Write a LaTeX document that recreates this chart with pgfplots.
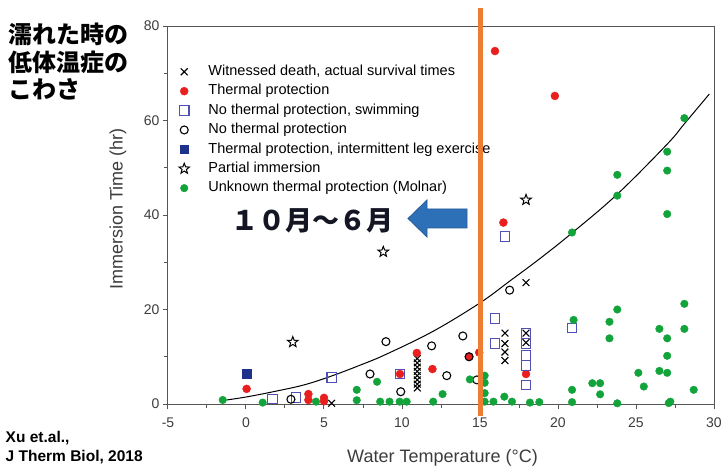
\documentclass[border=0pt]{standalone}
\usepackage{pgfplots}
\pgfplotsset{compat=1.18}
\usepackage{fontspec}
\setmainfont{Liberation Sans}
\newfontfamily\cjk{Noto Sans CJK JP}
\definecolor{tred}{RGB}{233,30,30}
\definecolor{tgreen}{RGB}{18,163,58}
\definecolor{tblue}{RGB}{80,80,180}
\definecolor{tnavy}{RGB}{30,50,140}
\definecolor{torange}{RGB}{237,125,49}
\definecolor{axisgray}{RGB}{85,85,85}
\definecolor{tickgray}{RGB}{60,60,60}
\definecolor{arrowblue}{RGB}{46,112,184}
\definecolor{arrowborder}{RGB}{37,90,150}
\definecolor{textnavy}{RGB}{20,22,35}
\pgfdeclareplotmark{ostar}{%
 \pgfpathmoveto{\pgfpointpolar{90}{\pgfplotmarksize}}%
 \pgfpathlineto{\pgfpointpolar{126}{0.42\pgfplotmarksize}}%
 \pgfpathlineto{\pgfpointpolar{162}{\pgfplotmarksize}}%
 \pgfpathlineto{\pgfpointpolar{198}{0.42\pgfplotmarksize}}%
 \pgfpathlineto{\pgfpointpolar{234}{\pgfplotmarksize}}%
 \pgfpathlineto{\pgfpointpolar{270}{0.42\pgfplotmarksize}}%
 \pgfpathlineto{\pgfpointpolar{306}{\pgfplotmarksize}}%
 \pgfpathlineto{\pgfpointpolar{342}{0.42\pgfplotmarksize}}%
 \pgfpathlineto{\pgfpointpolar{18}{\pgfplotmarksize}}%
 \pgfpathlineto{\pgfpointpolar{54}{0.42\pgfplotmarksize}}%
 \pgfpathclose\pgfusepathqstroke}
\begin{document}
\begin{tikzpicture}
\useasboundingbox (-168pt,-65pt) rectangle (553pt,404pt);
\begin{axis}[
 scale only axis, width=546pt, height=378pt,
 xmin=-5, xmax=30, ymin=0, ymax=80,
 xtick={-5,0,...,30}, ytick={0,20,...,80},
 minor x tick num=1, minor y tick num=1,
 xtick pos=bottom, ytick pos=left,
 tick align=outside,
 major tick length=5pt, minor tick length=4pt,
 axis line style={draw=axisgray, line width=1pt},
 every tick/.style={axisgray, line width=1pt},
 tick label style={font=\fontsize{14}{16}\selectfont, text=tickgray},
 xticklabel style={yshift=-5pt},
 /pgf/number format/assume math mode=true,
 clip=false,
 legend style={at={(axis description cs:0,1)}, anchor=north west, xshift=11pt, yshift=-38pt,
   draw=none, fill=none, inner sep=0pt, outer sep=0pt,
   font=\fontsize{14.5}{17}\selectfont, row sep=3.9pt, column sep=18pt,
   nodes={inner sep=1pt, text height=10.5pt, text depth=3pt}},
 legend cell align=left,
]
\addplot[black, line width=1pt, smooth, tension=0.6, no marks, forget plot] coordinates {
(-1.24,0.85)(0.04,1.5)(1.75,2.6)(3.67,4.0)(5.38,5.8)(7.3,8.2)(8.97,10.5)(12,15.4)(15,21.4)(16.9,26.0)(18.85,30.8)(20.9,36.2)(23.8,44.4)(27,55.0)(28.1,59.3)(29.7,65.6)};
\addplot[only marks, mark=x, mark size=4.8pt, black, line width=1.1pt] coordinates {
(5.49,0.15)(10.98,9.6)(10.98,8.7)(10.98,7.8)(10.98,6.9)(10.98,6.0)(10.98,5.1)(10.98,4.2)(10.98,3.4)
(16.6,15.0)(16.6,12.8)(16.6,11.0)(16.6,9.2)(17.95,15.0)(17.95,13.0)(17.95,25.7)};
\addlegendentry{Witnessed death, actual survival times}
\addplot[only marks, mark=*, mark size=4pt, tred, mark options={fill=tred, draw=tred}] coordinates {
(0.04,3.2)(4.0,2.1)(4.0,0.85)(5.0,1.3)(5.0,0.6)(9.87,6.35)(10.95,10.8)(11.95,7.4)(14.3,10.0)(14.95,10.9)(16.5,38.4)(15.96,74.7)(19.8,65.2)(17.95,6.35)};
\addlegendentry{Thermal protection}
\addplot[only marks, mark=square, mark size=4.8pt, tblue, line width=1.1pt] coordinates {
(1.71,1.06)(3.2,1.33)(5.5,5.65)(9.87,6.35)(15.96,18.1)(15.96,12.85)(17.95,14.9)(17.95,12.8)(17.95,10.3)(17.95,8.1)(17.95,4.0)(16.6,35.4)(20.9,16.1)};
\addlegendentry{No thermal protection, swimming}
\addplot[only marks, mark=o, mark size=4pt, black, line width=1.1pt] coordinates {
(2.88,1.0)(7.95,6.35)(8.97,13.2)(9.92,2.6)(11.9,12.3)(12.87,6.0)(13.9,14.4)(14.3,10.0)(14.8,5.1)(16.9,24.1)};
\addlegendentry{No thermal protection}
\addplot[only marks, mark=square*, mark size=4.3pt, tnavy, mark options={fill=tnavy, draw=tnavy}] coordinates {
(0.04,6.35)};
\addlegendentry{Thermal protection, intermittent leg exercise}
\addplot[only marks, mark=ostar, mark size=5.5pt, black, line width=1pt] coordinates {
(3.0,13.1)(8.8,32.2)(17.95,43.2)};
\addlegendentry{Partial immersion}
\addplot[only marks, mark=*, mark size=3.8pt, tgreen, mark options={fill=tgreen, draw=tgreen}] coordinates {
(-1.49,0.85)(1.07,0.3)(4.49,0.5)(7.1,3.0)(7.1,0.8)(8.4,4.7)(8.6,0.5)(9.2,0.5)(9.85,0.5)(10.3,0.5)(12.0,0.5)(12.6,2.1)(14.35,5.2)(15.3,6.0)(15.3,4.5)(15.3,2.3)(15.3,0.5)(15.86,0.5)(16.56,1.55)(17.05,0.5)(18.2,0.3)(18.8,0.4)(20.9,36.3)(20.9,3.0)(20.9,0.4)(21.0,17.8)(22.2,4.4)(22.7,4.4)(22.7,2.05)(23.3,17.4)(23.3,13.9)(23.8,48.5)(23.8,44.1)(23.8,20.0)(23.8,0.15)(25.15,6.6)(25.5,3.7)(26.5,15.9)(26.5,7.0)(27.0,53.4)(27.0,49.4)(27.0,40.2)(27.0,13.9)(27.0,10.2)(27.0,6.6)(27.2,0.5)(27.1,0.2)(28.1,60.5)(28.1,21.2)(28.1,15.9)(28.7,3.0)};
\addlegendentry{Unknown thermal protection (Molnar)}
\end{axis}
% vertical reference line at 15 degC
\draw[torange, line width=5pt] (312pt,396pt) -- (312pt,-12pt);
% axis labels
\node[font=\fontsize{18}{20}\selectfont, text=tickgray, rotate=90] at (-50pt,195pt) {Immersion Time (hr)};
\node[font=\fontsize{18}{20}\selectfont, text=tickgray] at (274.5pt,-54pt) {Water Temperature (°C)};
% title
\node[anchor=base west, align=left, inner sep=0pt, font=\cjk\bfseries\fontsize{24}{27.5}\selectfont] at (-160pt,305pt) {\lineskiplimit=-100pt\relax 濡れた時の\\低体温症の\\こわさ};
% citation
\node[anchor=base west, align=left, inner sep=0pt, font=\bfseries\fontsize{15.5}{18.5}\selectfont] at (-162.5pt,-57pt) {Xu et.al.,\\J Therm Biol, 2018};
% annotation
\node[font=\cjk\bfseries\fontsize{27}{27}\selectfont, text=textnavy] at (145pt,183pt) {１０月～６月};
\fill[arrowblue, draw=arrowborder, line width=0.8pt] (240pt,185.5pt) -- (259pt,204pt) -- (259pt,195pt) -- (299pt,195pt) -- (299pt,176pt) -- (259pt,176pt) -- (259pt,167pt) -- cycle;
\end{tikzpicture}
\end{document}
